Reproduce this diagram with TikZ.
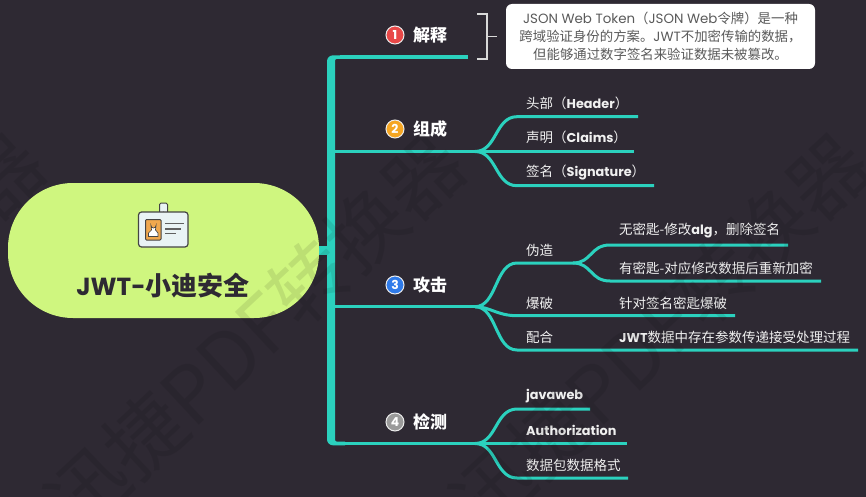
\documentclass[tikz,border=0pt]{standalone}
\usepackage{fontspec}
\setmainfont{Noto Sans CJK SC}
\newfontfamily\lat[Scale=0.95]{Poppins}
\newfontfamily\latn{Poppins}
\newcommand{\La}[1]{{\lat\bfseries #1}}
\newcommand{\Lb}[1]{{\latn #1}}
\definecolor{bgc}{HTML}{2E2933}
\definecolor{teal}{HTML}{2BD1BE}
\definecolor{rootc}{HTML}{CFF67F}
\definecolor{inkc}{HTML}{2E2933}
\definecolor{notec}{HTML}{5A5A5A}
\definecolor{labc}{HTML}{F0F0F0}
\definecolor{cardc}{HTML}{E9F3F5}
\definecolor{cardo}{HTML}{F0A84E}
\definecolor{cardk}{HTML}{444444}
\tikzset{
  main/.style={draw=teal,line width=3.4pt},
  sub/.style={draw=teal,line width=3pt},
  lab/.style={anchor=west,inner sep=0pt,text=labc,font=\fontsize{13.5}{15}\selectfont},
  latlab/.style={anchor=west,inner sep=0pt,text=labc,font=\fontsize{13.5}{15}\selectfont\lat\bfseries},
  head/.style={anchor=west,inner sep=0pt,text=white,font=\fontsize{17}{20}\selectfont\bfseries},
  badge/.style={circle,draw=white!85!gray,line width=1pt,minimum size=18pt,inner sep=0pt,text=white,font=\fontsize{13}{14}\selectfont\lat\bfseries},
  wmark/.style={text=black,opacity=0.09,rotate=43,font=\fontsize{78}{80}\selectfont,inner sep=0pt},
}
\begin{document}
\begin{tikzpicture}[x=1pt,y=-1pt]
\useasboundingbox[fill=bgc] (0,0) rectangle (866,497);
% coordinates
\coordinate (tk) at (331,250.5);
% root
\draw[main,line width=9pt] (310,250.5) -- (tk);
\node[fill=rootc,rounded corners=65pt,minimum width=311pt,minimum height=135pt,inner sep=0pt] (root) at (163.5,250.5) {};
\node[inner sep=0pt,text=inkc,font=\fontsize{26}{28}\selectfont\bfseries] (title) at (163,286) {{\lat\bfseries JWT-}小迪安全};
% icon
\draw[fill=cardc,draw=cardk,line width=1pt,rounded corners=1.5pt] (159.5,203) rectangle (167.5,217);
\fill[cardk] (163.5,212.5) circle (1);
\draw[fill=cardc,draw=cardk,line width=1.2pt,rounded corners=3pt] (138.5,212) rectangle (188,247);
\draw[fill=cardo,draw=cardk,line width=1pt,rounded corners=1pt] (145.5,219.5) rectangle (161,240);
\draw[fill=white,draw=cardk,line width=.7pt] (148.5,236.5) -- (148.5,233) -- (151.5,230) -- (151,225.5) arc (180:0:2.5) -- (155.5,230) -- (158,233) -- (158,236.5) -- cycle;
\draw[cardk!85,line width=1.1pt] (165,223.5) -- (184,223.5) (165,229) -- (181,229) (165,233.5) -- (176,233.5);
% trunk
\fill[teal] (345,55.3) [rounded corners=6pt] -- (327,55.3) -- (327,445.3) [sharp corners] -- (345,445.3) -- (345,441.7) [rounded corners=2pt] -- (335,441.7) -- (335,58.8) [sharp corners] -- (345,58.8) -- cycle;
% coordinates of branches
\coordinate (b1) at (340,57);   \coordinate (b1e) at (468,57);
\coordinate (b2) at (333,151.5); \coordinate (f2) at (475,151.5);
\coordinate (b3) at (333,306.7); \coordinate (f3) at (475,306.7);
\coordinate (b4) at (340,443.5); \coordinate (f4) at (475,443.5);
\draw[main] (b1) -- (b1e);
\draw[main] (b2) -- (f2);
\draw[main] (b3) -- (f3);
\draw[main] (b4) -- (f4);
% heads
\node[badge,fill={rgb,255:red,232;green,72;blue,72}] (n1) at (395,35) {1};
\node[head] (h1) at (413,35) {解释};
\node[badge,fill={rgb,255:red,245;green,166;blue,35}] (n2) at (395,129) {2};
\node[head] (h2) at (413,129) {组成};
\node[badge,fill={rgb,255:red,47;green,123;blue,234}] (n3) at (395,285) {3};
\node[head] (h3) at (413,285) {攻击};
\node[badge,fill={rgb,255:red,154;green,154;blue,154}] (n4) at (395,422) {4};
\node[head] (h4) at (413,422) {检测};
% bracket and callout
\coordinate (ba) at (477,14); \coordinate (bb) at (487,14); \coordinate (bc) at (487,59); \coordinate (bd) at (477,59);
\coordinate (bm) at (487,36.5); \coordinate (bn) at (497,36.5);
\node[fill=white,rounded corners=6pt,minimum width=309pt,minimum height=65pt,inner sep=0pt,align=center,text=notec,font=\fontsize{13.4}{18}\selectfont] (note) at (660.5,36.5)
 {\Lb{JSON Web Token}（\Lb{JSON Web}令牌）是一种\\跨域验证身份的方案。\Lb{JWT}不加密传输的数据，\\但能够通过数字签名来验证数据未被篡改。};
\draw[white!85!black,line width=1.5pt] (ba) -- (bb) -- (bc) -- (bd) (bm) -- (bn);
% group 2
\coordinate (c21) at (517,116.7); \coordinate (c23) at (517,185.7);
\coordinate (e21) at (638,116.7); \coordinate (e22) at (634,151.5); \coordinate (e23) at (654,185.7);
\node[lab] (l21) at (526,103.5) {头部（\La{Header}）};
\node[lab] (l22) at (526,137.5) {声明（\La{Claims}）};
\node[lab] (l23) at (526,172.5) {签名（\La{Signature}）};
\draw[sub] (f2) .. controls (497,151.5) and (495,116.7) .. (c21) -- (e21);
\draw[sub] (f2) -- (e22);
\draw[sub] (f2) .. controls (497,151.5) and (495,185.7) .. (c23) -- (e23);
% group 3
\coordinate (f31) at (517,263); \coordinate (f32) at (573,263);
\coordinate (c33) at (517,315.7); \coordinate (c34) at (517,350);
\coordinate (c31) at (610,245); \coordinate (c32) at (610,281);
\coordinate (e31) at (788,245); \coordinate (e32) at (821,281);
\coordinate (e33) at (735,315.7); \coordinate (e34) at (858,350);
\node[lab] (l31) at (526,250) {伪造};
\node[lab] (l32) at (526,303) {爆破};
\node[lab] (l33) at (526,337) {配合};
\node[lab] (l34) at (619,231) {无密匙-修改\La{alg}，删除签名};
\node[lab] (l35) at (619,268) {有密匙-对应修改数据后重新加密};
\node[lab] (l36) at (619,303) {针对签名密匙爆破};
\node[lab] (l37) at (619,337) {\La{JWT}数据中存在参数传递接受处理过程};
\draw[sub] (f3) .. controls (497,306.7) and (495,263) .. (f31) -- (f32);
\draw[sub] (f3) .. controls (490,306.7) and (497,315.7) .. (c33) -- (e33);
\draw[sub] (f3) .. controls (497,306.7) and (495,350) .. (c34) -- (e34);
\draw[sub] (f32) .. controls (592,263) and (590,245) .. (c31) -- (e31);
\draw[sub] (f32) .. controls (592,263) and (590,281) .. (c32) -- (e32);
% group 4
\coordinate (c41) at (517,409); \coordinate (c43) at (517,478);
\coordinate (e41) at (590,409); \coordinate (e42) at (627,443.5); \coordinate (e43) at (628,478);
\node[latlab] (l41) at (526,396) {javaweb};
\node[latlab] (l42) at (526,430) {Authorization};
\node[lab] (l43) at (526,465) {数据包数据格式};
\draw[sub] (f4) .. controls (497,443.5) and (495,409) .. (c41) -- (e41);
\draw[sub] (f4) -- (e42);
\draw[sub] (f4) .. controls (497,443.5) and (495,478) .. (c43) -- (e43);
% watermark
\node[wmark] (w0) at (-165,332) {迅捷PDF转换器};
\node[wmark] (w1) at (255,332) {迅捷PDF转换器};
\node[wmark] (w2) at (660,332) {迅捷PDF转换器};
\end{tikzpicture}
\end{document}
